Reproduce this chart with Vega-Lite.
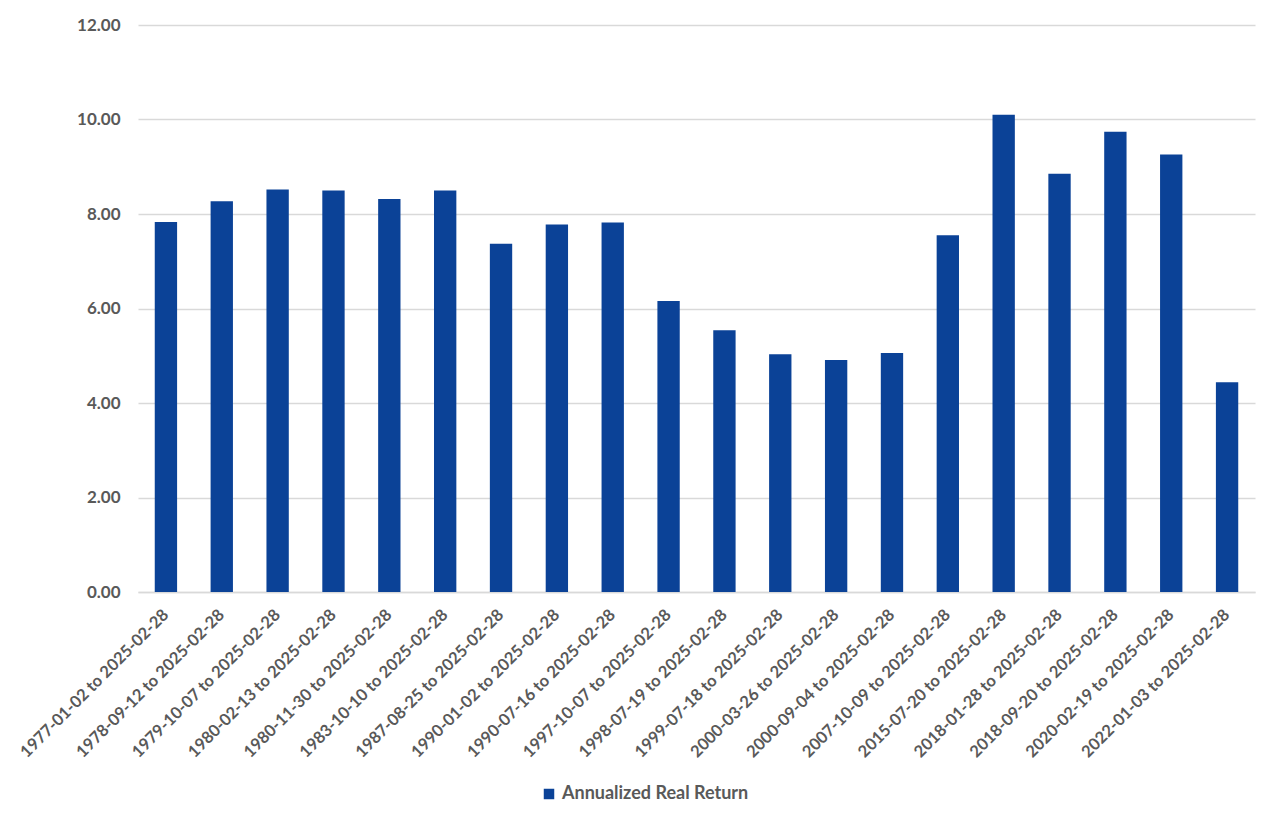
{
  "$schema": "https://vega.github.io/schema/vega-lite/v6.json",
  "width": 1117,
  "height": 567,
  "autosize": {"type": "none"},
  "padding": {"left": 138, "top": 25, "right": 25, "bottom": 240},
  "background": "white",
  "data": {
    "values": [
      {"period": "1977-01-02 to 2025-02-28", "value": 7.83, "series": "Annualized Real Return"},
      {"period": "1978-09-12 to 2025-02-28", "value": 8.27, "series": "Annualized Real Return"},
      {"period": "1979-10-07 to 2025-02-28", "value": 8.52, "series": "Annualized Real Return"},
      {"period": "1980-02-13 to 2025-02-28", "value": 8.50, "series": "Annualized Real Return"},
      {"period": "1980-11-30 to 2025-02-28", "value": 8.32, "series": "Annualized Real Return"},
      {"period": "1983-10-10 to 2025-02-28", "value": 8.50, "series": "Annualized Real Return"},
      {"period": "1987-08-25 to 2025-02-28", "value": 7.37, "series": "Annualized Real Return"},
      {"period": "1990-01-02 to 2025-02-28", "value": 7.78, "series": "Annualized Real Return"},
      {"period": "1990-07-16 to 2025-02-28", "value": 7.82, "series": "Annualized Real Return"},
      {"period": "1997-10-07 to 2025-02-28", "value": 6.16, "series": "Annualized Real Return"},
      {"period": "1998-07-19 to 2025-02-28", "value": 5.54, "series": "Annualized Real Return"},
      {"period": "1999-07-18 to 2025-02-28", "value": 5.03, "series": "Annualized Real Return"},
      {"period": "2000-03-26 to 2025-02-28", "value": 4.91, "series": "Annualized Real Return"},
      {"period": "2000-09-04 to 2025-02-28", "value": 5.06, "series": "Annualized Real Return"},
      {"period": "2007-10-09 to 2025-02-28", "value": 7.55, "series": "Annualized Real Return"},
      {"period": "2015-07-20 to 2025-02-28", "value": 10.10, "series": "Annualized Real Return"},
      {"period": "2018-01-28 to 2025-02-28", "value": 8.85, "series": "Annualized Real Return"},
      {"period": "2018-09-20 to 2025-02-28", "value": 9.74, "series": "Annualized Real Return"},
      {"period": "2020-02-19 to 2025-02-28", "value": 9.26, "series": "Annualized Real Return"},
      {"period": "2022-01-03 to 2025-02-28", "value": 4.44, "series": "Annualized Real Return"}
    ]
  },
  "mark": {"type": "bar"},
  "encoding": {
    "x": {
      "field": "period",
      "type": "nominal",
      "sort": null,
      "title": null,
      "scale": {"paddingInner": 0.6, "paddingOuter": 0.3},
      "axis": {
        "labelAngle": -45,
        "labelAlign": "right",
        "labelBaseline": "middle",
        "labelPadding": 20,
        "labelLimit": 0,
        "labelFont": "Lato",
        "labelFontWeight": "bold",
        "labelFontSize": 16.5,
        "labelColor": "#595959",
        "ticks": false,
        "domainColor": "#d9d9d9",
        "domainWidth": 1.5
      }
    },
    "y": {
      "field": "value",
      "type": "quantitative",
      "title": null,
      "scale": {"domain": [0, 12], "nice": false},
      "axis": {
        "values": [0, 2, 4, 6, 8, 10, 12],
        "format": ".2f",
        "domain": false,
        "ticks": false,
        "labelPadding": 18,
        "labelFont": "Lato",
        "labelFontWeight": "bold",
        "labelFontSize": 17,
        "labelColor": "#595959",
        "gridColor": "#d9d9d9",
        "gridWidth": 1.5
      }
    },
    "color": {
      "field": "series",
      "type": "nominal",
      "scale": {"range": ["#0b4297"]},
      "legend": {
        "orient": "none",
        "legendX": 402,
        "legendY": 760,
        "direction": "horizontal",
        "title": null,
        "symbolType": "square",
        "symbolSize": 110,
        "symbolStrokeWidth": 0,
        "labelLimit": 0,
        "labelFont": "Lato",
        "labelFontWeight": "bold",
        "labelFontSize": 18,
        "labelColor": "#595959"
      }
    }
  },
  "config": {
    "view": {"stroke": null}
  }
}
